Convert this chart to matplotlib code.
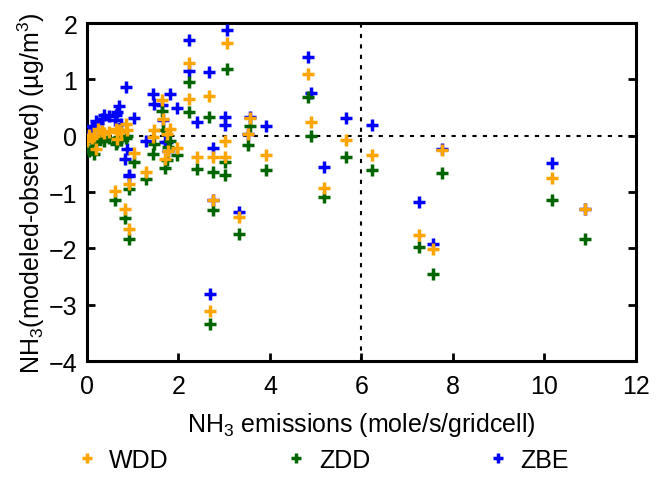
import matplotlib
matplotlib.use("Agg")
import matplotlib.pyplot as plt

# ============================================================
# DATA (one row per site: emission, WDD, ZDD, ZBE bias)
# ============================================================

emissions = [0.00, 0.04, 0.12, 0.15, 0.19, 0.23, 0.33, 0.37, 0.48, 0.61,
             0.63, 0.66, 0.70, 0.74, 0.82, 0.85, 0.88, 0.92, 0.92, 1.03,
             1.30, 1.45, 1.47, 1.65, 1.67, 1.70, 1.74, 1.78, 1.81, 1.96,
             2.24, 2.24, 2.40, 2.67, 2.69, 2.75, 2.76, 3.02, 3.02, 3.05,
             3.33, 3.51, 3.56, 3.91, 4.84, 4.90, 5.19, 5.66, 6.22, 7.26,
             7.56, 7.75, 10.16, 10.88]

wdd = [-0.10, 0.02, -0.05, 0.00, -0.24, 0.12, 0.09, 0.05, 0.06, -0.99,
       0.12, -0.06, 0.10, 0.06, -1.30, 0.21, 0.10, -0.86, -1.66, -0.30,
       -0.64, -0.03, 0.10, 0.63, 0.30, -0.41, 0.03, -0.27, 0.12, -0.21,
       1.29, 0.65, -0.38, 0.71, -3.11, -0.38, -1.15, -0.10, -0.38, 1.64,
       -1.45, 0.03, 0.31, -0.35, 1.10, 0.25, -0.93, -0.08, -0.35, -1.77,
       -2.02, -0.25, -0.75, -1.31]

zdd = [-0.22, -0.28, -0.12, -0.32, -0.15, -0.06, -0.02, -0.09, -0.05, -1.15,
       -0.15, -0.12, -0.02, -0.08, -1.46, -0.05, 0.00, -0.95, -1.83, -0.47,
       -0.77, -0.32, -0.15, 0.44, 0.10, -0.58, -0.44, -0.20, -0.10, -0.35,
       0.96, 0.42, -0.60, 0.34, -3.34, -0.64, -1.32, -0.47, -0.70, 1.18,
       -1.75, -0.17, 0.18, -0.61, 0.68, 0.00, -1.09, -0.37, -0.61, -1.98,
       -2.45, -0.66, -1.14, -1.83]

zbe = [-0.03, 0.05, 0.18, 0.12, 0.26, 0.22, 0.30, 0.37, 0.35, 0.28,
       0.37, 0.42, 0.53, 0.20, -0.41, 0.86, -0.24, -0.70, -0.72, 0.31,
       -0.09, 0.74, 0.56, 0.54, 0.27, -0.12, -0.12, -0.27, 0.74, 0.49,
       1.69, 1.15, 0.25, 1.13, -2.81, -0.21, -1.15, 0.34, 0.19, 1.88,
       -1.35, 0.03, 0.34, 0.18, 1.40, 0.76, -0.56, 0.31, 0.19, -1.18,
       -1.92, -0.23, -0.48, -1.31]

series_names = ["WDD", "ZDD", "ZBE"]
series_colors = ["#FFA500", "#006400", "#0000FF"]

# ============================================================
# FIGURE
# ============================================================

plt.rcParams["font.family"] = ["Liberation Sans", "DejaVu Sans"]
plt.rcParams["mathtext.default"] = "regular"
FS = 18

fig = plt.figure(figsize=(6.56, 4.85), dpi=100)
ax = fig.add_axes([0.1326, 0.2536, 0.8369, 0.6969])

ax.axhline(0, color="black", lw=1.5, ls=(0, (2, 3)), zorder=1)
ax.axvline(6, color="black", lw=1.5, ls=(0, (2, 3)), zorder=1)

# ZBE drawn first, WDD on top
handles = {}
for name, ys, col, z in zip(series_names, [wdd, zdd, zbe], series_colors, [5, 4, 3]):
    h, = ax.plot(emissions, ys, ls="none", marker="+", ms=8.5, mew=2.5,
                 color=col, zorder=z, label=name)
    handles[name] = h

ax.set_xlim(0, 12)
ax.set_ylim(-4, 2)
ax.set_xticks(range(0, 13, 2))
ax.set_yticks(range(-4, 3))

for s in ax.spines.values():
    s.set_linewidth(2.2)

ax.tick_params(axis="both", direction="in", length=6, width=2, labelsize=FS, pad=7)
ax.tick_params(axis="x", pad=9)
ax.tick_params(axis="y", right=True)

ax.set_xlabel("NH$_3$ emissions (mole/s/gridcell)", fontsize=FS, labelpad=9)
ax.set_ylabel("NH$_3$(modeled-observed) (µg/m$^3$)", fontsize=FS, labelpad=1)

fig.legend([handles[n] for n in series_names], series_names,
           loc="center", bbox_to_anchor=(0.49, 0.05), ncol=3, frameon=False,
           fontsize=FS, markerscale=0.8, handlelength=1.0, handletextpad=0.4,
           columnspacing=4.6)

fig.savefig("out.png", dpi=100)
